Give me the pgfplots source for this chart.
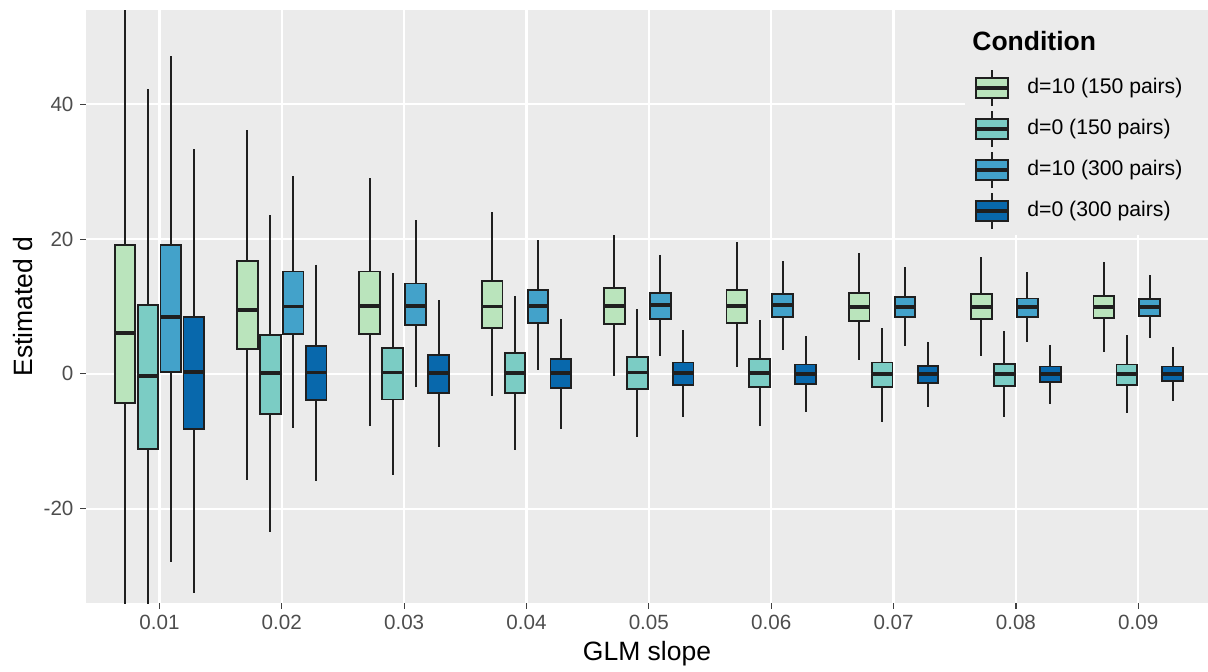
\documentclass[border=0pt]{standalone}
\usepackage{pgfplots}
\pgfplotsset{compat=1.18}
\usepackage{pgfplotstable}
\usepgfplotslibrary{statistics}
\usepackage{fontspec}
\setmainfont{Liberation Sans}
\definecolor{panel}{HTML}{EBEBEB}
\definecolor{cA}{HTML}{BAE4BC}
\definecolor{cB}{HTML}{7BCCC4}
\definecolor{cC}{HTML}{43A2CA}
\definecolor{cD}{HTML}{0868AC}
\definecolor{tickgray}{HTML}{4D4D4D}
\definecolor{edge}{HTML}{1F1F1F}

% columns: group, lower whisker, Q1, median, Q3, upper whisker
\pgfplotstableread{
g lw q1 med q3 uw
1 -40 -4.3 6.1 19.1 60
2 -15.7 3.7 9.5 16.8 36.2
3 -7.8 5.9 10.1 15.2 29.0
4 -3.3 6.8 10.0 13.8 24.0
5 -0.3 7.4 10.1 12.8 20.6
6 1.0 7.6 10.1 12.4 19.5
7 2.0 7.8 9.9 12.0 18.0
8 2.7 8.1 9.9 11.9 17.3
9 3.2 8.3 9.9 11.6 16.6
}\tA
\pgfplotstableread{
g lw q1 med q3 uw
1 -40 -11.1 -0.3 10.2 42.3
2 -23.4 -5.9 0.1 5.8 23.6
3 -15.0 -3.8 0.2 3.9 15.0
4 -11.3 -2.8 0.1 3.1 11.6
5 -9.3 -2.3 0.2 2.5 9.6
6 -7.8 -2.0 0.1 2.2 8.0
7 -7.2 -2.0 0.0 1.7 6.8
8 -6.4 -1.8 0.0 1.5 6.4
9 -5.8 -1.6 0.0 1.4 5.7
}\tB
\pgfplotstableread{
g lw q1 med q3 uw
1 -27.9 0.3 8.4 19.1 47.1
2 -8.0 5.9 10.0 15.2 29.4
3 -2.0 7.2 10.1 13.4 22.8
4 0.6 7.6 10.1 12.5 19.8
5 2.7 8.1 10.2 12.0 17.7
6 3.6 8.5 10.2 11.8 16.7
7 4.2 8.4 9.9 11.4 15.8
8 4.8 8.5 9.9 11.2 15.1
9 5.3 8.6 9.9 11.1 14.7
}\tC
\pgfplotstableread{
g lw q1 med q3 uw
1 -32.5 -8.2 0.3 8.4 33.4
2 -15.9 -3.9 0.2 4.1 16.2
3 -10.8 -2.8 0.1 2.8 10.9
4 -8.2 -2.1 0.1 2.2 8.2
5 -6.4 -1.7 0.1 1.7 6.5
6 -5.6 -1.5 0.0 1.4 5.6
7 -4.9 -1.4 0.0 1.2 4.8
8 -4.5 -1.2 0.0 1.1 4.3
9 -4.0 -1.1 0.0 1.1 4.0
}\tD

% #1 table, #2 row, #3 offset, #4 fill colour
\newcommand\bx[4]{%
  \pgfplotstablegetelem{#2}{lw}\of#1\edef\vlw{\pgfplotsretval}%
  \pgfplotstablegetelem{#2}{q1}\of#1\edef\vqa{\pgfplotsretval}%
  \pgfplotstablegetelem{#2}{med}\of#1\edef\vmd{\pgfplotsretval}%
  \pgfplotstablegetelem{#2}{q3}\of#1\edef\vqc{\pgfplotsretval}%
  \pgfplotstablegetelem{#2}{uw}\of#1\edef\vuw{\pgfplotsretval}%
  \pgfplotstablegetelem{#2}{g}\of#1\edef\vg{\pgfplotsretval}%
  \pgfmathsetmacro\vpos{\vg+#3}%
  \edef\tmp{\noexpand\addplot[draw=edge, fill=#4, boxplot prepared={draw position=\vpos,
    lower whisker=\vlw, lower quartile=\vqa, median=\vmd, upper quartile=\vqc, upper whisker=\vuw}] coordinates {};}%
  \tmp
}

\begin{document}
\begin{tikzpicture}
\begin{axis}[
  scale only axis, width=561pt, height=296.5pt,
  xmin=0.4, xmax=9.57, ymin=-34, ymax=54,
  xtick={1,2,3,4,5,6,7,8,9},
  xticklabels={0.01,0.02,0.03,0.04,0.05,0.06,0.07,0.08,0.09},
  ytick={-20,0,20,40},
  axis background/.style={fill=panel},
  axis line style={draw=none},
  grid=major, major grid style={white, line width=1.1pt},
  tick align=outside, tick pos=left, major tick length=2.75pt,
  major tick style={black!75, line width=0.6pt},
  ticklabel style={font=\fontsize{10.3}{12}\selectfont, text=tickgray},
  /pgf/number format/assume math mode=true,
  xlabel={GLM slope}, ylabel={Estimated d},
  label style={font=\fontsize{13.25}{15}\selectfont},
  xlabel style={at={(axis description cs:0.5,-0.086)}, anchor=center},
  ylabel style={at={(axis description cs:-0.0561,0.5)}, anchor=center},
  boxplot/draw direction=y,
  boxplot/box extend=0.169, boxplot/whisker extend=0,
  boxplot/every median/.style={line width=1.8pt},
  boxplot/every whisker/.style={line width=1pt},
  boxplot/every box/.style={line width=0.9pt},
]
\pgfplotsinvokeforeach{0,...,8}{
  \bx{\tA}{#1}{-0.28125}{cA}
  \bx{\tB}{#1}{-0.09375}{cB}
  \bx{\tC}{#1}{0.09375}{cC}
  \bx{\tD}{#1}{0.28125}{cD}
}
\end{axis}
% legend
\fill[panel] (439.5pt,184pt) rectangle (561pt,296.5pt);
\node[anchor=base west, inner sep=0, font=\bfseries\fontsize{13.25}{15}\selectfont] at (443pt,276.2pt) {Condition};
\foreach \c/\col/\txt in {257.5/cA/{d=10 (150 pairs)}, 237/cB/{d=0 (150 pairs)}, 216.5/cC/{d=10 (300 pairs)}, 196/cD/{d=0 (300 pairs)}}{
  \draw[edge, line width=1pt] (453pt,\c pt-9pt) -- (453pt,\c pt+9pt);
  \filldraw[fill=\col, draw=edge, line width=0.9pt] (445pt,\c pt-5pt) rectangle (461pt,\c pt+5pt);
  \draw[edge, line width=1.8pt] (445pt,\c pt) -- (461pt,\c pt);
  \node[anchor=west, inner sep=0, font=\fontsize{10.6}{12}\selectfont] at (470.5pt,\c pt) {\txt};
}
\pgfresetboundingbox
\path[use as bounding box] (-43pt,-34pt) rectangle (561pt,301.5pt);
\end{tikzpicture}
\end{document}
